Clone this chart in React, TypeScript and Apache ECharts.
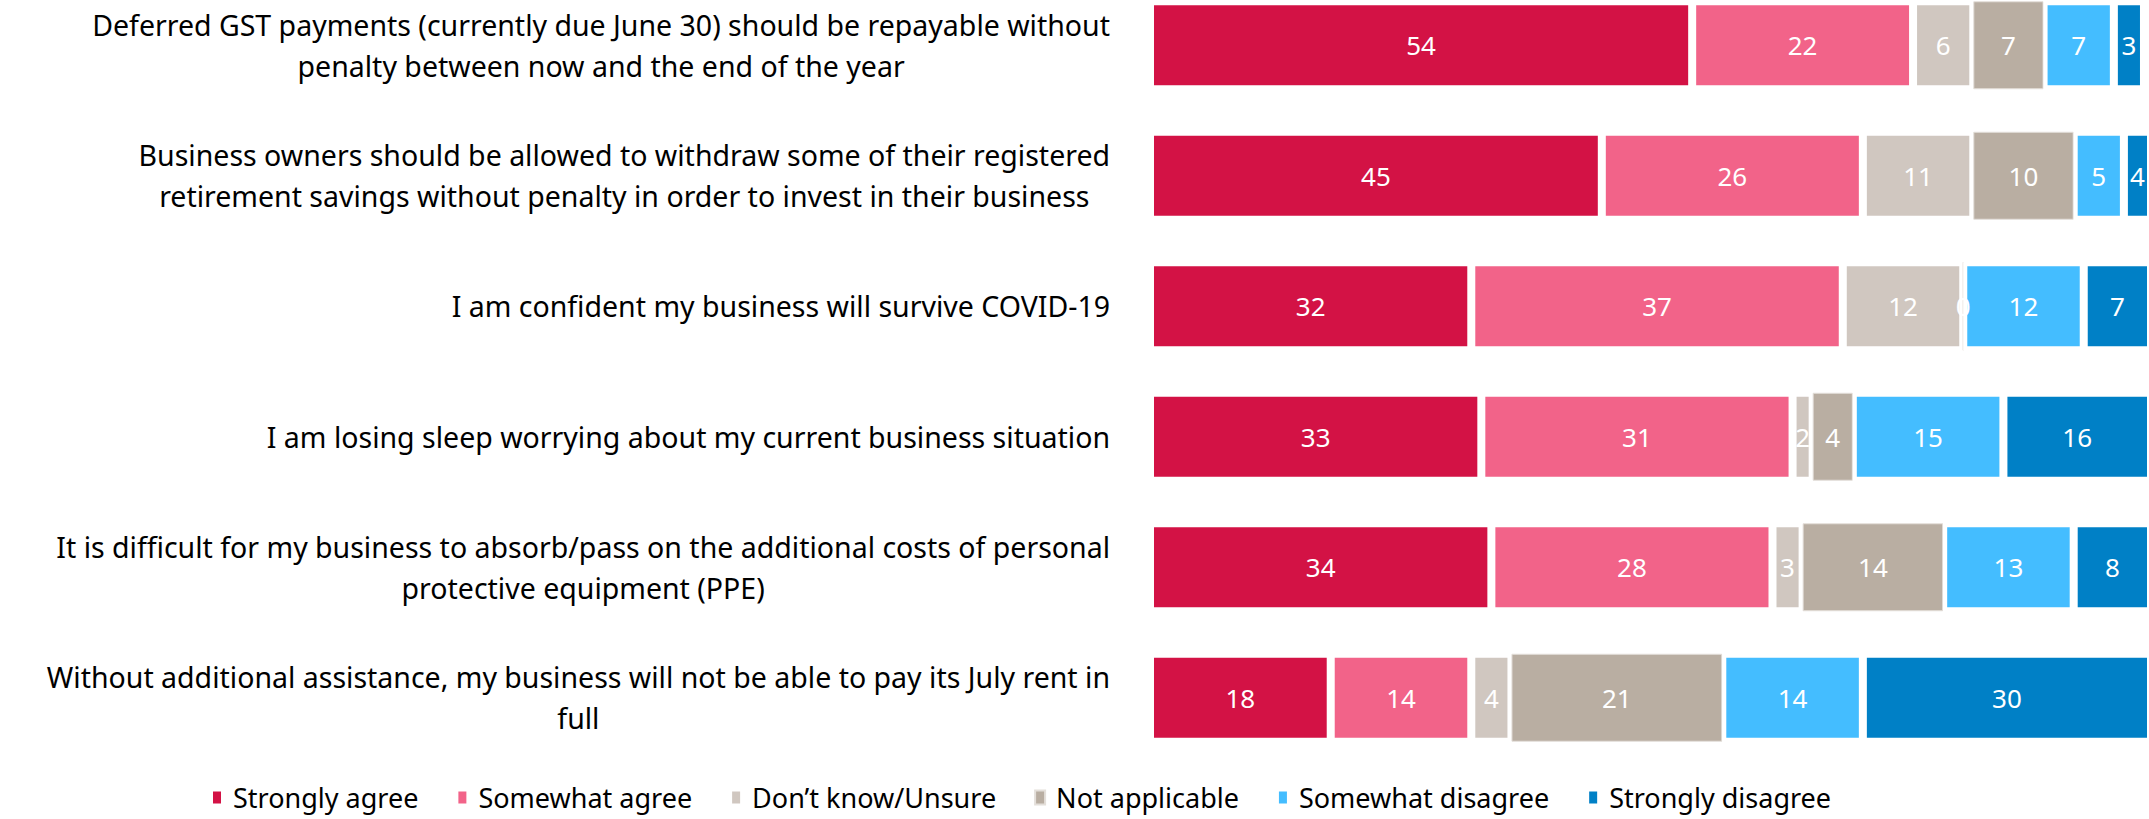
import React, { useEffect, useRef } from "react";
import * as echarts from "echarts";

const categories: string[] = [
  "Deferred GST payments (currently due June 30) should be repayable without\npenalty between now and the end of the year",
  "Business owners should be allowed to withdraw some of their registered\nretirement savings without penalty in order to invest in their business",
  "I am confident my business will survive COVID-19",
  "I am losing sleep worrying about my current business situation",
  "It is difficult for my business to absorb/pass on the additional costs of personal\nprotective equipment (PPE)",
  "Without additional assistance, my business will not be able to pay its July rent in\nfull",
];

const seriesNames: string[] = [
  "Strongly agree",
  "Somewhat agree",
  "Don\u2019t know/Unsure",
  "Not applicable",
  "Somewhat disagree",
  "Strongly disagree",
];

const stronglyAgree: number[] = [54, 45, 32, 33, 34, 18];
const somewhatAgree: number[] = [22, 26, 37, 31, 28, 14];
const dontKnow: number[] = [6, 11, 12, 2, 3, 4];
const notApplicable: number[] = [7, 10, 0, 4, 14, 21];
const somewhatDisagree: number[] = [7, 5, 12, 15, 13, 14];
const stronglyDisagree: number[] = [3, 4, 7, 16, 8, 30];

const colors: string[] = ["#D31245", "#F26389", "#D0C7C0", "#B9AEA2", "#44BDFF", "#0080C6"];

const FONT = "Noto Sans";
const SHIFT = 40; // chart div starts above the page so the first band can start above y=0

export default function App() {
  const ref = useRef<HTMLDivElement>(null);

  useEffect(() => {
    if (!ref.current) return;
    const chart = echarts.init(ref.current, null, { renderer: "svg" });
    const values = [stronglyAgree, somewhatAgree, dontKnow, notApplicable, somewhatDisagree, stronglyDisagree];

    const series = values.map((data, i) => ({
      name: seriesNames[i],
      type: "bar",
      stack: "total",
      barWidth: 88,
      data,
      itemStyle: {
        color: colors[i],
        borderColor: i === 3 ? "#E4DFDA" : "#ffffff",
        borderWidth: i === 3 ? 1 : 4,
      },
      label: {
        show: true,
        position: "inside",
        color: "#ffffff",
        fontFamily: FONT,
        fontSize: 26,
      },
      emphasis: { disabled: true },
    }));

    chart.setOption({
      animation: false,
      color: colors,
      grid: { left: 1150, right: 0, top: SHIFT - 20, height: 783, containLabel: false },
      xAxis: { type: "value", min: 0, max: 99.5, show: false },
      yAxis: {
        type: "category",
        inverse: true,
        data: categories,
        axisLine: { show: false },
        axisTick: { show: false },
        splitLine: { show: false },
        axisLabel: {
          margin: 40,
          align: "right",
          formatter: (v: string) =>
            v
              .split("\n")
              .map((l) => `{c|${l}}`)
              .join("\n"),
          rich: {
            c: {
              align: "center",
              fontFamily: FONT,
              fontSize: 28.5,
              lineHeight: 41,
              color: "#000000",
            },
          },
        },
      },
      legend: {
        left: 206,
        top: SHIFT + 779,
        itemWidth: 22,
        itemHeight: 14,
        itemGap: 38,
        icon: "path://M0,0h10v14h-10z",
        textStyle: { fontFamily: FONT, fontSize: 27, color: "#000000" },
        data: seriesNames,
      },
      series,
    });

    return () => chart.dispose();
  }, []);

  return (
    <div
      ref={ref}
      style={{ position: "fixed", left: 0, top: -SHIFT, width: 2149, height: 819 + SHIFT, background: "#ffffff" }}
    />
  );
}
